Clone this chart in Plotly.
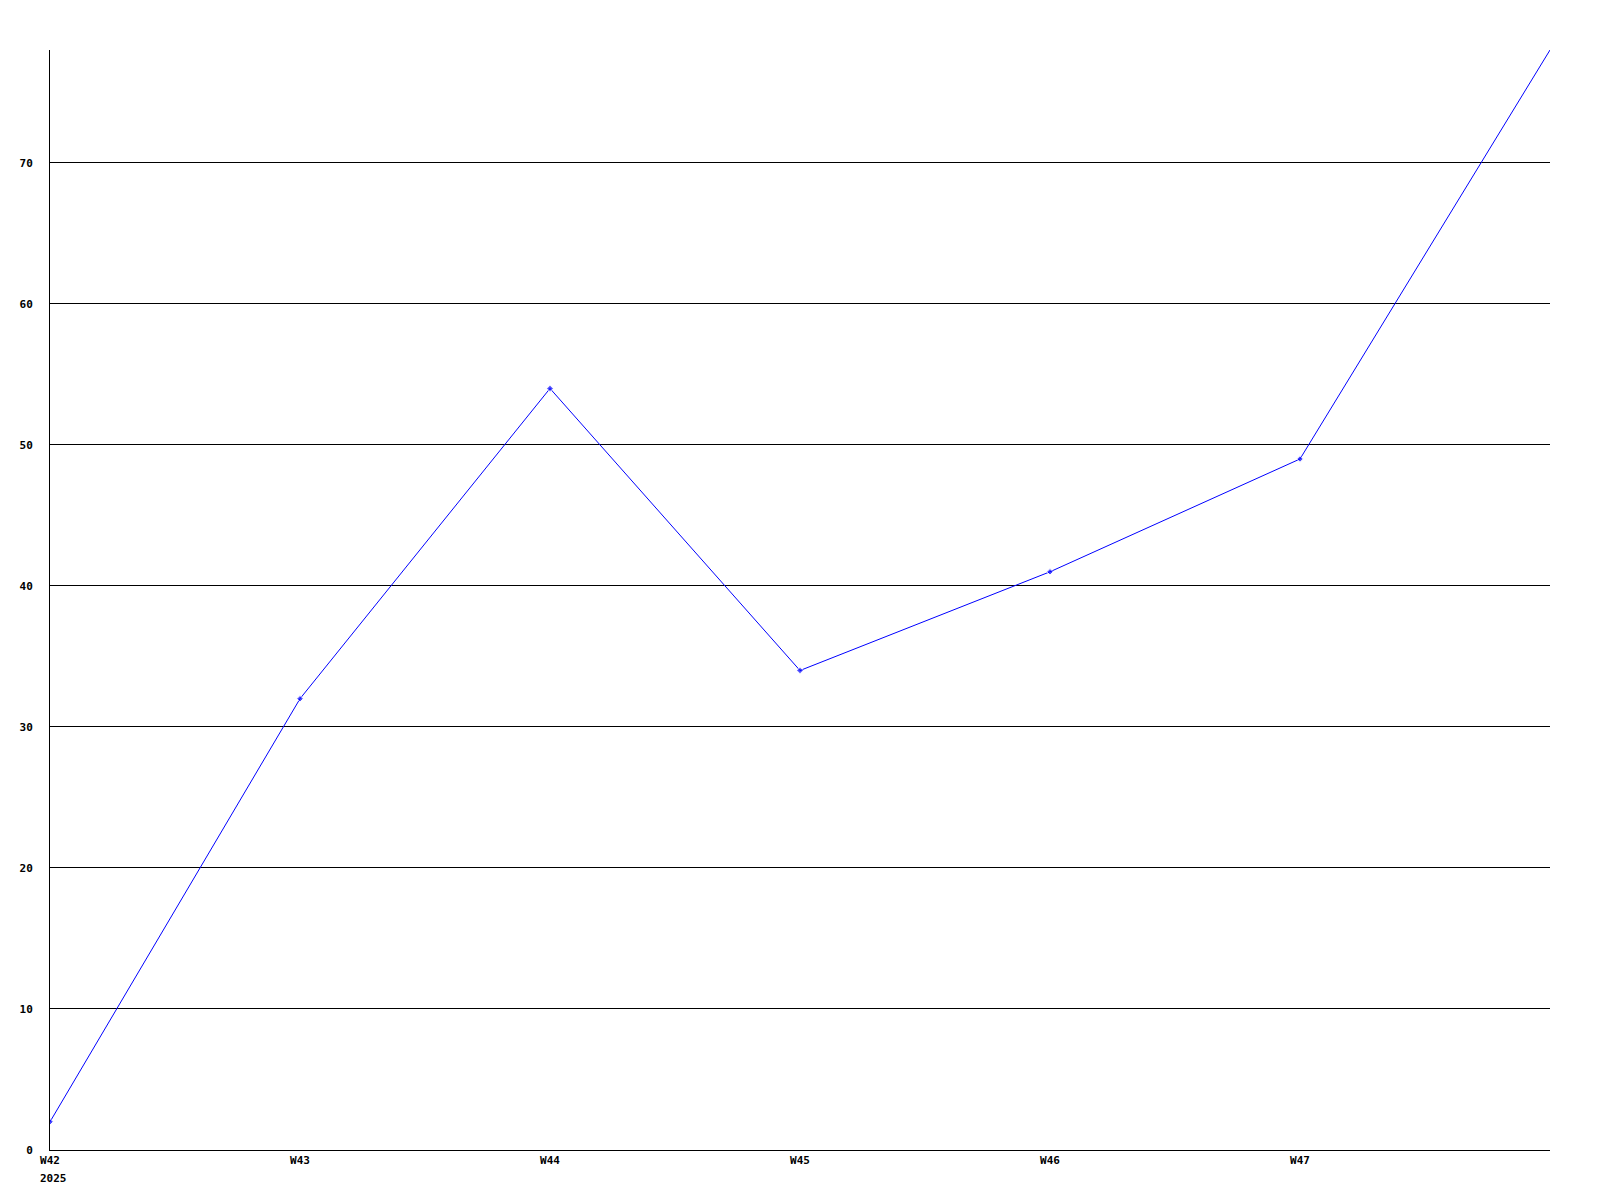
import plotly.graph_objects as go

weeks = ["W42", "W43", "W44", "W45", "W46", "W47", "W48"]
values = [2, 32, 54, 34, 41, 49, 78]
y_ticks = [0, 10, 20, 30, 40, 50, 60, 70]
year_label = "2025"

xs = list(range(len(weeks)))
sizes = [5] * (len(weeks) - 1) + [0]

fig = go.Figure()
fig.add_trace(go.Scatter(
    x=xs, y=values, mode="lines+markers",
    line=dict(color="#0000ff", width=1),
    marker=dict(color="#0000ff", size=sizes, symbol="diamond"),
    showlegend=False,
))

font = dict(family="DejaVu Sans Mono", size=11, color="black", weight="bold")

fig.update_layout(
    width=1584, height=1184,
    margin=dict(l=42, r=42, t=42, b=42),
    plot_bgcolor="white", paper_bgcolor="white",
    font=font,
    xaxis=dict(
        range=[0, 6], tickmode="array", tickvals=xs[:-1], ticktext=weeks[:-1],
        showgrid=False, zeroline=False, showline=True, linecolor="black", linewidth=1,
        ticks="", tickfont=font,
    ),
    yaxis=dict(
        range=[0, 78], tickmode="array", tickvals=y_ticks,
        showgrid=True, gridcolor="black", gridwidth=1, zeroline=False,
        showline=True, linecolor="black", linewidth=1, ticks="", ticklabelstandoff=14,
        tickfont=font,
    ),
    annotations=[dict(
        x=0, y=0, xref="x", yref="paper", text=year_label, showarrow=False,
        xanchor="left", yanchor="top", xshift=-12, yshift=-20, font=font,
    )],
)

fig.write_html("out.html")
